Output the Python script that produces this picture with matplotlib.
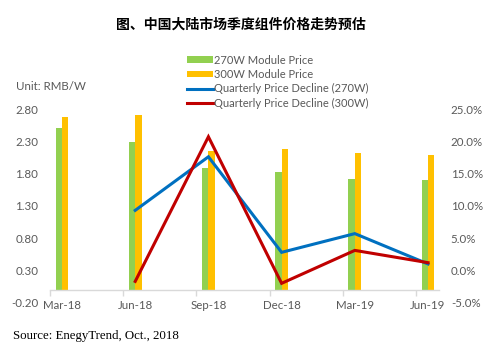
import numpy as np
import matplotlib.pyplot as plt
from matplotlib.patches import Patch
from matplotlib.lines import Line2D
from matplotlib.ticker import FuncFormatter

# quarterly module prices (RMB/W) and quarter-over-quarter declines (%)
quarters = ['Mar-18', 'Jun-18', 'Sep-18', 'Dec-18', 'Mar-19', 'Jun-19']
price_270w = [2.51, 2.29, 1.88, 1.82, 1.71, 1.70]
price_300w = [2.67, 2.70, 2.15, 2.18, 2.12, 2.09]
decline_270w = [np.nan, 9.3, 17.6, 2.8, 5.7, 1.0]
decline_300w = [np.nan, -1.7, 20.7, -2.0, 3.1, 1.2]

GREEN = '#92D050'
ORANGE = '#FFC000'
BLUE = '#0070C0'
RED = '#C00000'
GREY_TXT = '#595959'
AXIS_GREY = '#D9D9D9'

plt.rcParams['font.family'] = ['Lato', 'DejaVu Sans']

fig = plt.figure(figsize=(4.93, 3.46), dpi=100)
ax = fig.add_axes([50 / 493, 43.3 / 346, 389 / 493, 193.7 / 346])

x = np.arange(len(quarters))
w = 0.088
ax.bar(x - w / 2, price_270w, width=w, color=GREEN, zorder=2)
ax.bar(x + w / 2, price_300w, width=w, color=ORANGE, zorder=2)

ax.set_xlim(-0.164, 5.15)
ax.set_ylim(-0.2, 2.8)
ax.set_yticks(np.arange(-0.2, 2.81, 0.5))
ax.yaxis.set_major_formatter(FuncFormatter(lambda v, p: f'{v:.2f}'))

for side in ['top', 'left', 'right']:
    ax.spines[side].set_visible(False)
ax.spines['bottom'].set_position(('data', 0))
ax.spines['bottom'].set_color(AXIS_GREY)
ax.spines['bottom'].set_linewidth(1)

ax.set_xticks(x, quarters)
ax.set_xticks(x - 0.164, minor=True)
ax.tick_params(axis='x', which='major', length=0, pad=7, labelsize=8.3, labelcolor=GREY_TXT)
ax.tick_params(axis='x', which='minor', length=4, width=1, color=AXIS_GREY)
ax.tick_params(axis='y', length=0, pad=8.5, labelsize=8.3, labelcolor=GREY_TXT)

# percentage axis for the decline lines
ax2 = ax.twinx()
ax2.plot(x, decline_270w, color=BLUE, lw=2.2, solid_joinstyle='miter')
ax2.plot(x, decline_300w, color=RED, lw=2.2, solid_joinstyle='miter')
ax2.set_ylim(-5, 25)
ax2.set_yticks(np.arange(-5, 25.1, 5))
ax2.yaxis.set_major_formatter(FuncFormatter(lambda v, p: f'{v:.1f}%'))
ax2.tick_params(axis='y', length=0, pad=8.5, labelsize=8.3, labelcolor=GREY_TXT)
for side in ['top', 'left', 'right', 'bottom']:
    ax2.spines[side].set_visible(False)

handles = [
    Patch(facecolor=GREEN, edgecolor='none'),
    Patch(facecolor=ORANGE, edgecolor='none'),
    Line2D([], [], color=BLUE, lw=2.2),
    Line2D([], [], color=RED, lw=2.2),
]
labels = ['270W Module Price', '300W Module Price',
          'Quarterly Price Decline (270W)', 'Quarterly Price Decline (300W)']
fig.legend(handles, labels, loc='upper left', bbox_to_anchor=(181 / 493, 1 - 49 / 346),
           frameon=False, fontsize=8, labelcolor=GREY_TXT, handlelength=2.4,
           handleheight=0.55, handletextpad=0.1, labelspacing=0.3, borderpad=0)

fig.text(16 / 493, 1 - 86 / 346, 'Unit: RMB/W', fontsize=8.3, color=GREY_TXT, va='center')
fig.text(241 / 493, 1 - 24.5 / 346, '图、中国大陆市场季度组件价格走势预估',
         family=['Noto Sans CJK SC', 'DejaVu Sans'], fontweight='bold',
         fontsize=10, ha='center', va='center')
fig.text(13 / 493, 1 - 336 / 346, 'Source: EnegyTrend, Oct., 2018',
         family=['Liberation Serif', 'DejaVu Serif'], fontsize=9.3, va='center')

fig.savefig('out.png', dpi=100)
